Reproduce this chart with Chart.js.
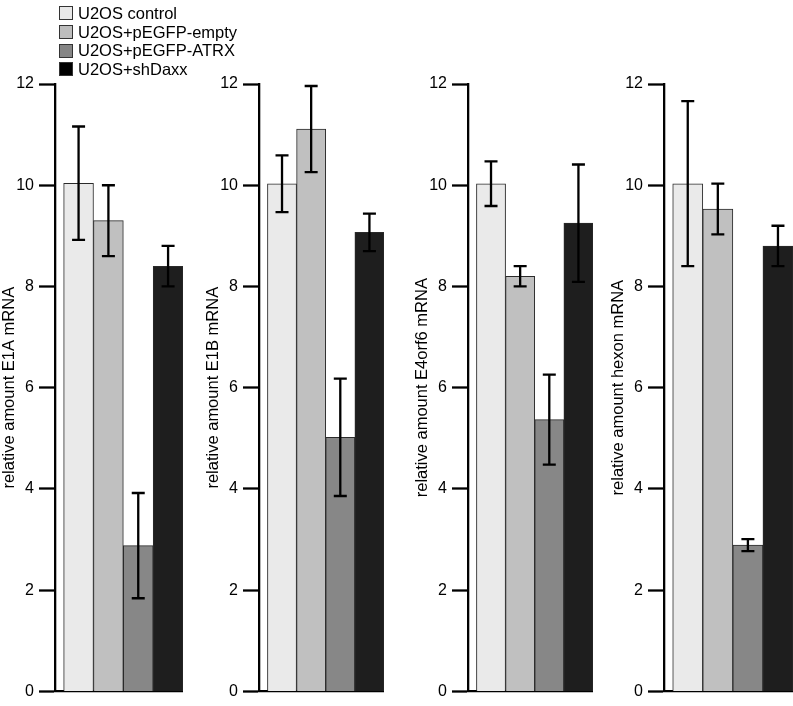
<!DOCTYPE html>
<html>
<head>
<meta charset="utf-8">
<script src="https://cdn.jsdelivr.net/npm/chart.js@4.4.1/dist/chart.umd.min.js"></script>
<style>
  body { margin: 0; width: 793px; height: 706px; position: relative; background: #fff; overflow: hidden;
         font-family: "Liberation Sans", Arial, Helvetica, sans-serif; }
  .panel { position: absolute; top: 0; height: 706px; }
  #legend { position: absolute; left: 59px; top: 4px; z-index: 2; font-size: 16.5px; line-height: 18.7px; color: #000; }
  #legend div { display: flex; align-items: center; }
  #legend span.box { display: inline-block; width: 12px; height: 12px; border: 1px solid #333; margin-right: 5px; }
</style>
</head>
<body>
<div id="legend"></div>
<div class="panel" style="left:0px;width:183px"><canvas id="chartE1A"></canvas></div>
<div class="panel" style="left:204px;width:180px"><canvas id="chartE1B"></canvas></div>
<div class="panel" style="left:413px;width:180px"><canvas id="chartE4orf6"></canvas></div>
<div class="panel" style="left:609px;width:184px"><canvas id="chartHexon"></canvas></div>
<script>
// conditions (one bar each, same order in every panel)
const conditions = ['U2OS control', 'U2OS+pEGFP-empty', 'U2OS+pEGFP-ATRX', 'U2OS+shDaxx'];
const barColors = ['#eaeaea', '#c0c0c0', '#878787', '#1e1e1e'];
const legendColors = ['#e8e8e8', '#bdbdbd', '#858585', '#000000'];

// relative mRNA amounts and error (+/-)
const e1aValues = [10.04, 9.30, 2.88, 8.40];
const e1aErrors = [1.12, 0.70, 1.04, 0.40];
const e1bValues = [10.03, 11.11, 5.02, 9.07];
const e1bErrors = [0.56, 0.85, 1.16, 0.37];
const e4orf6Values = [10.03, 8.20, 5.37, 9.25];
const e4orf6Errors = [0.44, 0.20, 0.89, 1.16];
const hexonValues = [10.03, 9.53, 2.89, 8.80];
const hexonErrors = [1.63, 0.50, 0.12, 0.40];

const yTicks = [0, 2, 4, 6, 8, 10, 12];

// legend
const legendEl = document.getElementById('legend');
conditions.forEach((c, i) => {
    const row = document.createElement('div');
    row.innerHTML = '<span class="box" style="background:' + legendColors[i] + '"></span>' + c;
    legendEl.appendChild(row);
});

// draws the error bars on top of every bar
const errorBars = {
    id: 'errorBars',
    afterDatasetsDraw(chart) {
        const ctx = chart.ctx;
        const yScale = chart.scales.y;
        const meta = chart.getDatasetMeta(0);
        const errs = chart.data.datasets[0].errors;
        ctx.save();
        ctx.strokeStyle = '#000';
        ctx.lineWidth = 2.3;
        meta.data.forEach((bar, i) => {
            const v = chart.data.datasets[0].data[i].y;
            const top = yScale.getPixelForValue(v + errs[i]);
            const bottom = yScale.getPixelForValue(v - errs[i]);
            const cap = 6.5;
            ctx.beginPath();
            ctx.moveTo(bar.x, top);
            ctx.lineTo(bar.x, bottom);
            ctx.moveTo(bar.x - cap, top);
            ctx.lineTo(bar.x + cap, top);
            ctx.moveTo(bar.x - cap, bottom);
            ctx.lineTo(bar.x + cap, bottom);
            ctx.stroke();
        });
        ctx.restore();
    }
};

function renderPanel(id, values, errors, title) {
    const ctx = document.getElementById(id);
    new Chart(ctx, {
        type: 'bar',
        data: {
            datasets: [{
                data: values.map((v, i) => ({ x: i + 0.5, y: v })),
                errors: errors,
                backgroundColor: barColors,
                borderColor: '#2a2a2a',
                borderWidth: 1,
                barPercentage: 1,
                categoryPercentage: 1
            }]
        },
        options: {
            responsive: true,
            maintainAspectRatio: false,
            animation: false,
            layout: { padding: { top: 84, bottom: 10, left: 0, right: 0 } },
            plugins: { legend: { display: false }, tooltip: { enabled: false } },
            scales: {
                x: {
                    type: 'linear',
                    offset: false,
                    min: -0.29,
                    max: 4,
                    ticks: { display: false, stepSize: 1, includeBounds: false },
                    grid: { display: false, drawTicks: false, offset: false },
                    border: { display: true, color: '#000', width: 2.3 },
                    afterFit: s => { s.height = 0; }
                },
                y: {
                    min: 0,
                    max: 12,
                    afterBuildTicks: s => { s.ticks = yTicks.map(v => ({ value: v })); },
                    ticks: {
                        color: '#000',
                        padding: 5,
                        font: { family: '"Liberation Sans", Arial, Helvetica, sans-serif', size: 16 }
                    },
                    grid: {
                        drawOnChartArea: false,
                        drawTicks: true,
                        tickLength: 16,
                        tickWidth: 2.3,
                        tickColor: '#000'
                    },
                    border: { display: true, color: '#000', width: 2.3 },
                    title: {
                        display: true,
                        text: title,
                        color: '#000',
                        padding: 0,
                        font: { family: '"Liberation Sans", Arial, Helvetica, sans-serif', size: 16.5 }
                    },
                    afterFit: s => { s.width = 55; }
                }
            }
        },
        plugins: [errorBars]
    });
}

renderPanel('chartE1A', e1aValues, e1aErrors, 'relative amount E1A mRNA');
renderPanel('chartE1B', e1bValues, e1bErrors, 'relative amount E1B mRNA');
renderPanel('chartE4orf6', e4orf6Values, e4orf6Errors, 'relative amount E4orf6 mRNA');
renderPanel('chartHexon', hexonValues, hexonErrors, 'relative amount hexon mRNA');
</script>
</body>
</html>
